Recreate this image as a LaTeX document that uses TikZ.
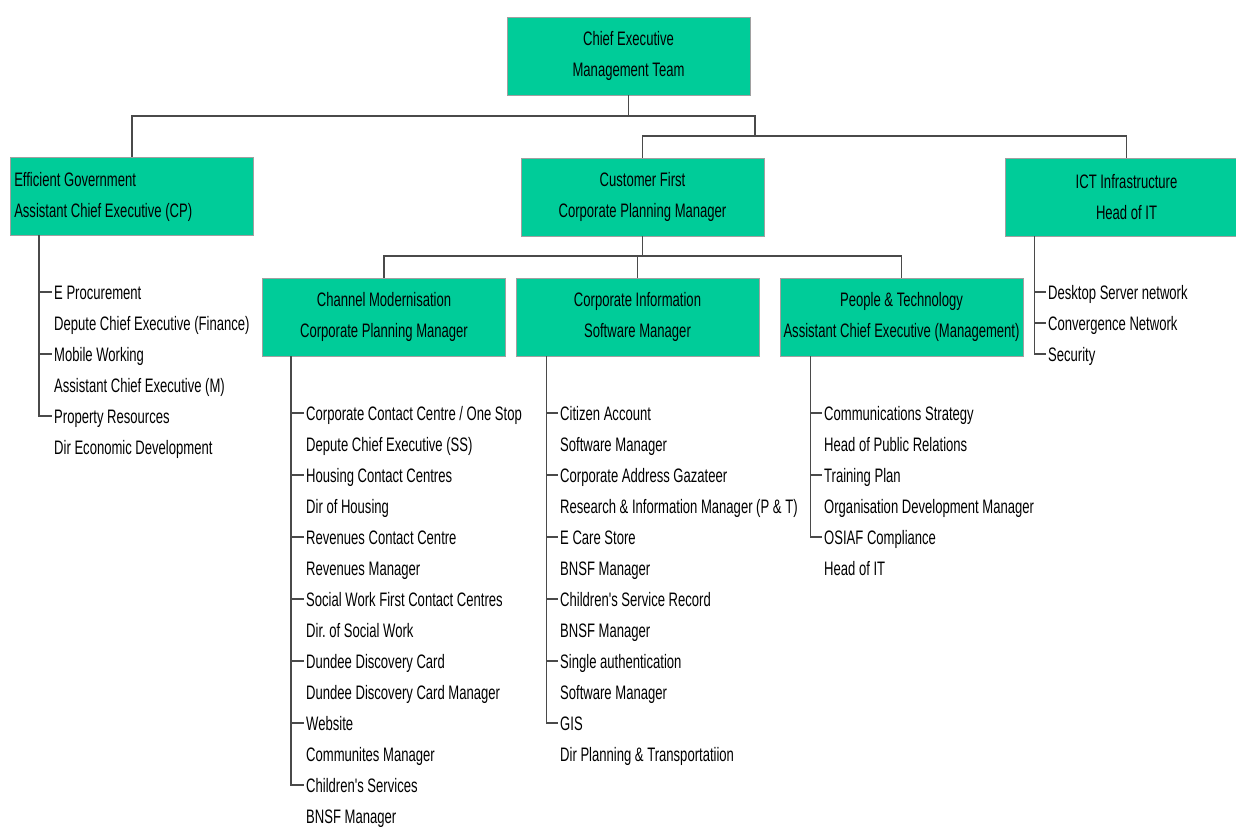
\documentclass[tikz,border=0pt]{standalone}
\usepackage{fontspec}
\setmainfont{Liberation Sans}[FakeStretch=0.67, Ligatures=TeXOff]
\frenchspacing
\definecolor{boxgreen}{HTML}{00CC99}
\definecolor{linegray}{HTML}{4A4A4A}
\definecolor{bordergray}{HTML}{A0A0A0}
\begin{document}
\begin{tikzpicture}[x=1pt,y=-1pt,
  txt/.style={font=\fontsize{19.5}{31}\selectfont},
  box/.style={draw=bordergray, line width=0.9pt, fill=boxgreen, minimum width=243pt,
    minimum height=78pt, align=center, inner sep=3pt, txt},
  conn/.style={draw=linegray, line width=1.4pt},
  item/.style={anchor=base west, inner sep=0pt, txt}]
\fill[white] (0,0) rectangle (1236,827);
\useasboundingbox (0,0) rectangle (1236,827);

% boxes
\node[box] (top) at (628.5,56) {Chief Executive\\Management Team};
\node[box] (eff) at (132,196) {};
\node[txt, align=left, anchor=west, inner sep=0pt] (efft) at ([xshift=4pt,yshift=-1pt]eff.west)
  {Efficient Government\\Assistant Chief Executive (CP)};
\node[box] (cf) at (642.5,197) {Customer First\\Corporate Planning Manager};
\node[box] (ict) at (1126.5,197) {ICT Infrastructure\\Head of IT};
\node[box] (cm) at (384,317) {Channel Modernisation\\Corporate Planning Manager};
\node[box] (ci) at (637.5,317) {Corporate Information\\Software Manager};
\node[box] (pt) at (901.5,317) {People \& Technology\\Assistant Chief Executive (Management)};

% top-level connectors
\coordinate (j1) at (628.5,116);
\coordinate (j2) at (755,116);
\coordinate (j3) at (755,136);
\draw[conn] (top.south) -- (j1) -| (eff.north);
\draw[conn] (j1) -- (j2) -- (j3);
\draw[conn] (cf.north) |- (j3) -| (ict.north);

% second-level connectors
\coordinate (k) at (642.5,256);
\draw[conn] (cf.south) -- (k);
\draw[conn] (cm.north) |- (k) -| (pt.north);
\draw[conn] (ci.north) -- (ci.north |- k);

% Efficient Government list
\foreach \t [count=\i] in {{E Procurement},{Depute Chief Executive (Finance)},{Mobile Working},
  {Assistant Chief Executive (M)},{Property Resources},{Dir Economic Development}}
  \node[item] (e\i) at (54,{299+31*(\i-1)}) {\t};
\path (eff.south west) ++(29,0) coordinate (ev);
\foreach \i in {1,3,5}
  \draw[conn] (ev) |- ([xshift=-2pt,yshift=7pt]e\i.base west);

% ICT list
\foreach \t [count=\i] in {{Desktop Server network},{Convergence Network},{Security}}
  \node[item] (t\i) at (1048,{299+31*(\i-1)}) {\t};
\path (ict.south west) ++(30,0) coordinate (tv);
\foreach \i in {1,2,3}
  \draw[conn] (tv) |- ([xshift=-2pt,yshift=7pt]t\i.base west);

% Channel Modernisation list
\foreach \t [count=\i] in {{Corporate Contact Centre / One Stop},{Depute Chief Executive (SS)},
  {Housing Contact Centres},{Dir of Housing},{Revenues Contact Centre},{Revenues Manager},
  {Social Work First Contact Centres},{Dir. of Social Work},{Dundee Discovery Card},
  {Dundee Discovery Card Manager},{Website},{Communites Manager},{Children's Services},{BNSF Manager}}
  \node[item] (c\i) at (306,{420+31*(\i-1)}) {\t};
\path (cm.south west) ++(29,0) coordinate (cv);
\foreach \i in {1,3,5,7,9,11,13}
  \draw[conn] (cv) |- ([xshift=-2pt,yshift=7pt]c\i.base west);

% Corporate Information list
\foreach \t [count=\i] in {{Citizen Account},{Software Manager},{Corporate Address Gazateer},
  {Research \& Information Manager (P \& T)},{E Care Store},{BNSF Manager},
  {Children's Service Record},{BNSF Manager},{Single authentication},{Software Manager},
  {GIS},{Dir Planning \& Transportatiion}}
  \node[item] (i\i) at (560,{420+31*(\i-1)}) {\t};
\path (ci.south west) ++(31,0) coordinate (iv);
\foreach \i in {1,3,5,7,9,11}
  \draw[conn] (iv) |- ([xshift=-2pt,yshift=7pt]i\i.base west);

% People & Technology list
\foreach \t [count=\i] in {{Communications Strategy},{Head of Public Relations},{Training Plan},
  {Organisation Development Manager},{OSIAF Compliance},{Head of IT}}
  \node[item] (p\i) at (824,{420+31*(\i-1)}) {\t};
\path (pt.south west) ++(31,0) coordinate (pv);
\foreach \i in {1,3,5}
  \draw[conn] (pv) |- ([xshift=-2pt,yshift=7pt]p\i.base west);
\end{tikzpicture}
\end{document}
